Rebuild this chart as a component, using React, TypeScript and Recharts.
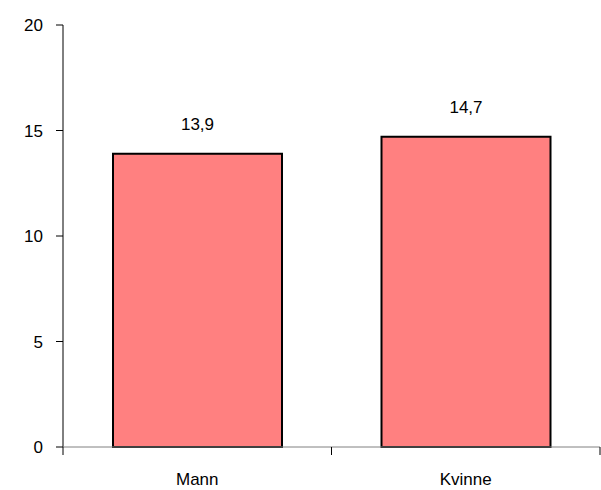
import React from "react";
import { BarChart, Bar, XAxis, YAxis, LabelList } from "recharts";

const categories = ["Mann", "Kvinne"];
const values = [13.9, 14.7];
const yTicks = [0, 5, 10, 15, 20];

const data = categories.map((c, i) => ({ name: c, value: values[i] }));

const FONT = "'Liberation Sans', Arial, sans-serif";
const FS = 17;

const CatTick = (props: any) => {
  const { x, y, payload } = props;
  const half = payload && payload.offset ? payload.offset : 134;
  const top = y - 18 - 8; // axis line position
  return (
    <g>
      <line x1={x - half} y1={top} x2={x - half} y2={top + 8} stroke="#000" strokeWidth={1} />
      <line x1={x + half} y1={top} x2={x + half} y2={top + 8} stroke="#000" strokeWidth={1} />
      <text x={x} y={y} dy="0.71em" textAnchor="middle" fontFamily={FONT} fontSize={FS} fill="#000">
        {payload.value}
      </text>
    </g>
  );
};

const fmt = (v: number) => v.toFixed(1).replace(".", ",");

export default function App() {
  return (
    <div style={{ position: "absolute", left: 0, top: 0, background: "#fff" }}>
      <BarChart
        width={601}
        height={490}
        data={data}
        margin={{ top: 25, right: 1, left: 0, bottom: 0 }}
        barCategoryGap={50}
      >
        <YAxis
          width={63}
          domain={[0, 20]}
          ticks={yTicks}
          interval={0}
          tickSize={7}
          tickMargin={13}
          axisLine={{ stroke: "#000", strokeWidth: 1 }}
          tickLine={{ stroke: "#000", strokeWidth: 1 }}
          tick={{ fontFamily: FONT, fontSize: FS, fill: "#000" }}
        />
        <XAxis
          dataKey="name"
          height={43}
          interval={0}
          tickSize={8}
          tickMargin={18}
          tickLine={false}
          axisLine={{ stroke: "#808080", strokeWidth: 1 }}
          tick={<CatTick />}
        />
        <Bar dataKey="value" fill="#FF8080" stroke="#000" strokeWidth={2} isAnimationActive={false}>
          <LabelList
            dataKey="value"
            position="top"
            offset={24}
            formatter={(v: any) => fmt(Number(v))}
            style={{ fontFamily: FONT, fontSize: FS, fill: "#000" }}
          />
        </Bar>
      </BarChart>
    </div>
  );
}
